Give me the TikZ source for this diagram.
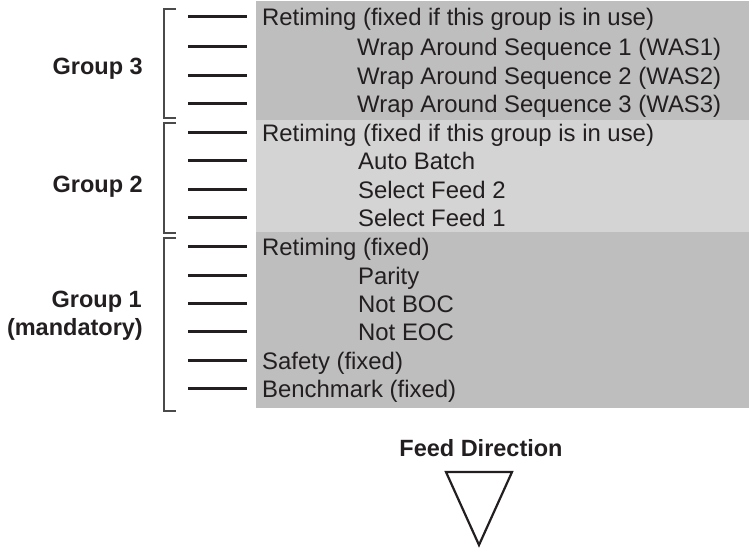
\documentclass[tikz,border=0pt]{standalone}
\usepackage{fontspec}
\setmainfont{Liberation Sans}
\definecolor{txt}{HTML}{231F20}
\definecolor{panelA}{HTML}{BEBEBE}
\definecolor{panelB}{HTML}{D4D4D4}
\definecolor{brk}{HTML}{4A4A4A}
\begin{document}
\begin{tikzpicture}[x=1pt,y=-1pt,
  rowtext/.style={anchor=base west,inner sep=0pt,text=txt,font=\fontsize{23.9}{28}\selectfont},
  grouplabel/.style={anchor=base east,inner sep=0pt,text=txt,font=\fontsize{23.5}{28}\selectfont\bfseries},
  rowdash/.style={line width=3pt,draw=txt},
  bracketline/.style={line width=1.6pt,draw=brk},
  tri/.style={line width=2.2pt,draw=txt,line join=miter}]
\useasboundingbox (0,0) rectangle (749,547);
% panels
\fill[panelA] (256,1) rectangle (749,120);
\fill[panelB] (256,120) rectangle (749,232);
\fill[panelA] (256,232) rectangle (749,408);
% row positions
\foreach \k/\y in {0/17,1/47,2/76,3/104,4/133,5/161,6/190,7/218,8/247,9/276,10/304,11/332,12/361,13/389}{
  \coordinate (da\k) at (188,\y-0.5);
  \coordinate (db\k) at (247,\y-0.5);
  \coordinate (tw\k) at (262,\y+8.5);
  \coordinate (ti\k) at (358,\y+8.5);
  \draw[rowdash] (da\k) -- (db\k);
}
% row texts
\node[rowtext] (r0) at (tw0) {Retiming (fixed if this group is in use)};
\node[rowtext] (r1) at ([xshift=-1pt]ti1) {Wrap Around Sequence 1 (WAS1)};
\node[rowtext] (r2) at ([xshift=-1pt]ti2) {Wrap Around Sequence 2 (WAS2)};
\node[rowtext] (r3) at ([xshift=-1pt]ti3) {Wrap Around Sequence 3 (WAS3)};
\node[rowtext] (r4) at (tw4) {Retiming (fixed if this group is in use)};
\node[rowtext] (r5) at (ti5) {Auto Batch};
\node[rowtext] (r6) at (ti6) {Select Feed 2};
\node[rowtext] (r7) at (ti7) {Select Feed 1};
\node[rowtext] (r8) at (tw8) {Retiming (fixed)};
\node[rowtext] (r9) at (ti9) {Parity};
\node[rowtext] (r10) at (ti10) {Not BOC};
\node[rowtext] (r11) at (ti11) {Not EOC};
\node[rowtext] (r12) at (tw12) {Safety (fixed)};
\node[rowtext] (r13) at (tw13) {Benchmark (fixed)};
% brackets
\draw[bracketline] (176,9) -- (164,9) -- (164,118) -- (176,118);
\draw[bracketline] (176,123) -- (164,123) -- (164,233) -- (176,233);
\draw[bracketline] (176,238) -- (164,238) -- (164,411) -- (176,411);
% group labels
\node[grouplabel] (g3) at (143,74) {Group 3};
\node[grouplabel] (g2) at (143,192) {Group 2};
\node[grouplabel] (g1) at (142,307) {Group 1};
\node[grouplabel] (g1m) at (143,335) {(mandatory)};
% feed direction
\node[anchor=base,inner sep=0pt,text=txt,font=\fontsize{23.5}{28}\selectfont\bfseries] (fd) at (481,456) {Feed Direction};
\coordinate (t1) at (446,472);
\coordinate (t2) at (512,472);
\coordinate (t3) at (479,545);
\draw[tri] (t1) -- (t2) -- (t3) -- cycle;
\end{tikzpicture}
\end{document}
